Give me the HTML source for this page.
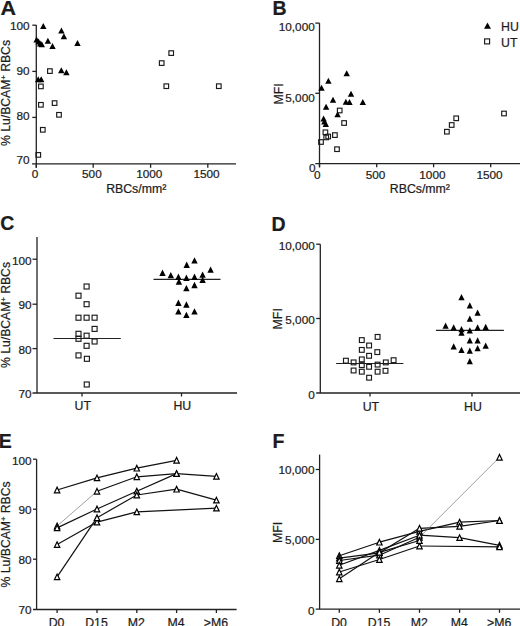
<!DOCTYPE html>
<html><head><meta charset="utf-8"><style>
html,body{margin:0;padding:0;background:#fff;}
body{width:520px;height:626px;overflow:hidden;}
svg{display:block;}
text{font-family:"Liberation Sans",sans-serif;fill:#1c1c1c;stroke:#1c1c1c;stroke-width:0.22px;}
</style></head><body>
<svg width="520" height="626" viewBox="0 0 520 626">
<rect width="520" height="626" fill="#fff"/>
<text x="0.6" y="14.6" font-size="19.5" text-anchor="start" font-weight="bold" transform="translate(0.6,0) scale(1.1,1) translate(-0.6,0)">A</text>
<line x1="36.3" y1="25" x2="36.3" y2="167.8" stroke="#222" stroke-width="1.3"/>
<line x1="32" y1="163.8" x2="236" y2="163.8" stroke="#222" stroke-width="1.3"/>
<line x1="32.3" y1="25.2" x2="36.3" y2="25.2" stroke="#222" stroke-width="1.3"/>
<line x1="32.3" y1="71.4" x2="36.3" y2="71.4" stroke="#222" stroke-width="1.3"/>
<line x1="32.3" y1="117.4" x2="36.3" y2="117.4" stroke="#222" stroke-width="1.3"/>
<text x="29.6" y="30.12" font-size="11.8" text-anchor="end" font-weight="normal" >100</text>
<text x="29.6" y="74.82" font-size="11.8" text-anchor="end" font-weight="normal" >90</text>
<text x="29.6" y="120.22" font-size="11.8" text-anchor="end" font-weight="normal" >80</text>
<text x="29.6" y="164.22" font-size="11.8" text-anchor="end" font-weight="normal" >70</text>
<line x1="36.3" y1="163.8" x2="36.3" y2="167.8" stroke="#222" stroke-width="1.3"/>
<text x="35" y="178.3" font-size="11.8" text-anchor="middle" font-weight="normal" >0</text>
<line x1="93.2" y1="163.8" x2="93.2" y2="167.8" stroke="#222" stroke-width="1.3"/>
<text x="91.9" y="178.3" font-size="11.8" text-anchor="middle" font-weight="normal" >500</text>
<line x1="150.6" y1="163.8" x2="150.6" y2="167.8" stroke="#222" stroke-width="1.3"/>
<text x="149.3" y="178.3" font-size="11.8" text-anchor="middle" font-weight="normal" >1000</text>
<line x1="207.8" y1="163.8" x2="207.8" y2="167.8" stroke="#222" stroke-width="1.3"/>
<text x="206.5" y="178.3" font-size="11.8" text-anchor="middle" font-weight="normal" >1500</text>
<text x="136.2" y="193.2" font-size="12.3" text-anchor="middle" font-weight="normal" >RBCs/mm²</text>
<text transform="translate(9.7,93) rotate(-90)" x="0" y="0" font-size="12.2" text-anchor="middle">% Lu/BCAM<tspan dy="-4" font-size="7.5">+</tspan><tspan dy="4"> RBCs</tspan></text>
<rect x="47.6" y="68.8" width="4.6" height="4.6" fill="none" stroke="#1a1a1a" stroke-width="1.15"/>
<rect x="38.6" y="84.1" width="4.6" height="4.6" fill="none" stroke="#1a1a1a" stroke-width="1.15"/>
<rect x="38.6" y="102.5" width="4.6" height="4.6" fill="none" stroke="#1a1a1a" stroke-width="1.15"/>
<rect x="52.3" y="100.8" width="4.6" height="4.6" fill="none" stroke="#1a1a1a" stroke-width="1.15"/>
<rect x="56.7" y="112.5" width="4.6" height="4.6" fill="none" stroke="#1a1a1a" stroke-width="1.15"/>
<rect x="40.5" y="127.5" width="4.6" height="4.6" fill="none" stroke="#1a1a1a" stroke-width="1.15"/>
<rect x="36" y="152.6" width="4.6" height="4.6" fill="none" stroke="#1a1a1a" stroke-width="1.15"/>
<rect x="168.9" y="50.8" width="4.6" height="4.6" fill="none" stroke="#1a1a1a" stroke-width="1.15"/>
<rect x="159.4" y="60.8" width="4.6" height="4.6" fill="none" stroke="#1a1a1a" stroke-width="1.15"/>
<rect x="164" y="83.9" width="4.6" height="4.6" fill="none" stroke="#1a1a1a" stroke-width="1.15"/>
<rect x="216.5" y="83.9" width="4.6" height="4.6" fill="none" stroke="#1a1a1a" stroke-width="1.15"/>
<polygon points="40.1,29 46.5,29 43.3,23" fill="#000"/>
<polygon points="58.2,33.4 64.6,33.4 61.4,27.4" fill="#000"/>
<polygon points="60.7,39.2 67.1,39.2 63.9,33.2" fill="#000"/>
<polygon points="33.4,42.4 39.8,42.4 36.6,36.4" fill="#000"/>
<polygon points="35.4,44.6 41.8,44.6 38.6,38.6" fill="#000"/>
<polygon points="37,46.4 43.4,46.4 40.2,40.4" fill="#000"/>
<polygon points="38.6,47.2 45,47.2 41.8,41.2" fill="#000"/>
<polygon points="44.7,43.8 51.1,43.8 47.9,37.8" fill="#000"/>
<polygon points="49.3,49 55.7,49 52.5,43" fill="#000"/>
<polygon points="74.3,46.1 80.7,46.1 77.5,40.1" fill="#000"/>
<polygon points="58.1,73.2 64.5,73.2 61.3,67.2" fill="#000"/>
<polygon points="63.2,75.3 69.6,75.3 66.4,69.3" fill="#000"/>
<polygon points="35,82.3 41.4,82.3 38.2,76.3" fill="#000"/>
<polygon points="38,82.3 44.4,82.3 41.2,76.3" fill="#000"/>
<text x="272.6" y="14.6" font-size="19.5" text-anchor="start" font-weight="bold" >B</text>
<line x1="319.5" y1="23.1" x2="319.5" y2="167.3" stroke="#222" stroke-width="1.3"/>
<line x1="315.3" y1="163.7" x2="520" y2="163.7" stroke="#222" stroke-width="1.3"/>
<line x1="315.3" y1="23.1" x2="319.5" y2="23.1" stroke="#222" stroke-width="1.3"/>
<line x1="315.3" y1="93.3" x2="319.5" y2="93.3" stroke="#222" stroke-width="1.3"/>
<text x="314.8" y="31.25" font-size="11.8" text-anchor="end" font-weight="normal" >10,000</text>
<text x="314.8" y="102.05" font-size="11.8" text-anchor="end" font-weight="normal" >5,000</text>
<text x="315.6" y="172.05" font-size="11.8" text-anchor="end" font-weight="normal" >0</text>
<line x1="319.5" y1="163.7" x2="319.5" y2="167.3" stroke="#222" stroke-width="1.3"/>
<text x="317.3" y="178.8" font-size="11.8" text-anchor="middle" font-weight="normal" >0</text>
<line x1="376.7" y1="163.7" x2="376.7" y2="167.3" stroke="#222" stroke-width="1.3"/>
<text x="375.5" y="178.8" font-size="11.8" text-anchor="middle" font-weight="normal" >500</text>
<line x1="433.6" y1="163.7" x2="433.6" y2="167.3" stroke="#222" stroke-width="1.3"/>
<text x="432.4" y="178.8" font-size="11.8" text-anchor="middle" font-weight="normal" >1000</text>
<line x1="490.7" y1="163.7" x2="490.7" y2="167.3" stroke="#222" stroke-width="1.3"/>
<text x="489.5" y="178.8" font-size="11.8" text-anchor="middle" font-weight="normal" >1500</text>
<text x="419.9" y="193.4" font-size="12.3" text-anchor="middle" font-weight="normal" >RBCs/mm²</text>
<text transform="translate(282.6,94) rotate(-90)" x="0" y="0" font-size="12.3" text-anchor="middle">MFI</text>
<polygon points="484,28.7 491,28.7 487.5,22.5" fill="#000"/>
<text x="501" y="30.7" font-size="12.3" text-anchor="start" font-weight="normal" >HU</text>
<rect x="484.6" y="38.9" width="5" height="5" fill="none" stroke="#1a1a1a" stroke-width="1.15"/>
<text x="501" y="47" font-size="12.3" text-anchor="start" font-weight="normal" >UT</text>
<rect x="337.4" y="108.2" width="4.6" height="4.6" fill="none" stroke="#1a1a1a" stroke-width="1.15"/>
<rect x="341.8" y="120.7" width="4.6" height="4.6" fill="none" stroke="#1a1a1a" stroke-width="1.15"/>
<rect x="323.1" y="130" width="4.6" height="4.6" fill="none" stroke="#1a1a1a" stroke-width="1.15"/>
<rect x="332.6" y="132.8" width="4.6" height="4.6" fill="none" stroke="#1a1a1a" stroke-width="1.15"/>
<rect x="325.9" y="134.2" width="4.6" height="4.6" fill="none" stroke="#1a1a1a" stroke-width="1.15"/>
<rect x="323.9" y="135.1" width="4.6" height="4.6" fill="none" stroke="#1a1a1a" stroke-width="1.15"/>
<rect x="318.7" y="139.7" width="4.6" height="4.6" fill="none" stroke="#1a1a1a" stroke-width="1.15"/>
<rect x="334.7" y="146.9" width="4.6" height="4.6" fill="none" stroke="#1a1a1a" stroke-width="1.15"/>
<rect x="453.9" y="116" width="4.6" height="4.6" fill="none" stroke="#1a1a1a" stroke-width="1.15"/>
<rect x="449.4" y="122.7" width="4.6" height="4.6" fill="none" stroke="#1a1a1a" stroke-width="1.15"/>
<rect x="444.6" y="129.4" width="4.6" height="4.6" fill="none" stroke="#1a1a1a" stroke-width="1.15"/>
<rect x="501.7" y="111.2" width="4.6" height="4.6" fill="none" stroke="#1a1a1a" stroke-width="1.15"/>
<polygon points="343.5,76.3 349.9,76.3 346.7,70.3" fill="#000"/>
<polygon points="325.2,83.8 331.6,83.8 328.4,77.8" fill="#000"/>
<polygon points="318.3,90.7 324.7,90.7 321.5,84.7" fill="#000"/>
<polygon points="347.8,96.8 354.2,96.8 351,90.8" fill="#000"/>
<polygon points="329.8,102.8 336.2,102.8 333,96.8" fill="#000"/>
<polygon points="342.7,104.7 349.1,104.7 345.9,98.7" fill="#000"/>
<polygon points="346.3,105.1 352.7,105.1 349.5,99.1" fill="#000"/>
<polygon points="359.6,105.1 366,105.1 362.8,99.1" fill="#000"/>
<polygon points="322.9,109.7 329.3,109.7 326.1,103.7" fill="#000"/>
<polygon points="334.4,117.2 340.8,117.2 337.6,111.2" fill="#000"/>
<polygon points="320.4,121.5 326.8,121.5 323.6,115.5" fill="#000"/>
<polygon points="321.2,124.4 327.6,124.4 324.4,118.4" fill="#000"/>
<polygon points="322.6,127 329,127 325.8,121" fill="#000"/>
<text x="0.2" y="230.4" font-size="19.5" text-anchor="start" font-weight="bold" >C</text>
<line x1="37" y1="237" x2="37" y2="393" stroke="#222" stroke-width="1.3"/>
<line x1="32.5" y1="393" x2="237" y2="393" stroke="#222" stroke-width="1.3"/>
<line x1="32.5" y1="259.2" x2="37" y2="259.2" stroke="#222" stroke-width="1.3"/>
<line x1="32.5" y1="304.2" x2="37" y2="304.2" stroke="#222" stroke-width="1.3"/>
<line x1="32.5" y1="348.6" x2="37" y2="348.6" stroke="#222" stroke-width="1.3"/>
<text x="31.6" y="265.02" font-size="11.8" text-anchor="end" font-weight="normal" >100</text>
<text x="31.6" y="309.22" font-size="11.8" text-anchor="end" font-weight="normal" >90</text>
<text x="31.6" y="353.62" font-size="11.8" text-anchor="end" font-weight="normal" >80</text>
<text x="31.6" y="398.22" font-size="11.8" text-anchor="end" font-weight="normal" >70</text>
<line x1="82" y1="393" x2="82" y2="396.5" stroke="#222" stroke-width="1.3"/>
<text x="82.8" y="410.11" font-size="12.3" text-anchor="middle" font-weight="normal" >UT</text>
<line x1="181.5" y1="393" x2="181.5" y2="396.5" stroke="#222" stroke-width="1.3"/>
<text x="182.3" y="410.11" font-size="12.3" text-anchor="middle" font-weight="normal" >HU</text>
<text transform="translate(9.7,315) rotate(-90)" x="0" y="0" font-size="12.2" text-anchor="middle">% Lu/BCAM<tspan dy="-4" font-size="7.5">+</tspan><tspan dy="4"> RBCs</tspan></text>
<line x1="53.5" y1="338.5" x2="120.8" y2="338.5" stroke="#222" stroke-width="1.2"/>
<line x1="153.5" y1="279.4" x2="220.5" y2="279.4" stroke="#222" stroke-width="1.2"/>
<rect x="84.1" y="284" width="5" height="5" fill="none" stroke="#1a1a1a" stroke-width="1.15"/>
<rect x="76" y="293.2" width="5" height="5" fill="none" stroke="#1a1a1a" stroke-width="1.15"/>
<rect x="84.1" y="301.7" width="5" height="5" fill="none" stroke="#1a1a1a" stroke-width="1.15"/>
<rect x="76" y="315.2" width="5" height="5" fill="none" stroke="#1a1a1a" stroke-width="1.15"/>
<rect x="84.1" y="315.2" width="5" height="5" fill="none" stroke="#1a1a1a" stroke-width="1.15"/>
<rect x="92.1" y="315.2" width="5" height="5" fill="none" stroke="#1a1a1a" stroke-width="1.15"/>
<rect x="92.1" y="326.4" width="5" height="5" fill="none" stroke="#1a1a1a" stroke-width="1.15"/>
<rect x="76" y="331.3" width="5" height="5" fill="none" stroke="#1a1a1a" stroke-width="1.15"/>
<rect x="84.1" y="333.2" width="5" height="5" fill="none" stroke="#1a1a1a" stroke-width="1.15"/>
<rect x="76" y="336.3" width="5" height="5" fill="none" stroke="#1a1a1a" stroke-width="1.15"/>
<rect x="92.1" y="339" width="5" height="5" fill="none" stroke="#1a1a1a" stroke-width="1.15"/>
<rect x="84.1" y="343.3" width="5" height="5" fill="none" stroke="#1a1a1a" stroke-width="1.15"/>
<rect x="76" y="352.9" width="5" height="5" fill="none" stroke="#1a1a1a" stroke-width="1.15"/>
<rect x="84.4" y="356.3" width="5" height="5" fill="none" stroke="#1a1a1a" stroke-width="1.15"/>
<rect x="84.25" y="382" width="5" height="5" fill="none" stroke="#1a1a1a" stroke-width="1.15"/>
<polygon points="191.3,263.6 197.7,263.6 194.5,257.2" fill="#000"/>
<polygon points="183.5,267.9 189.9,267.9 186.7,261.5" fill="#000"/>
<polygon points="207.4,272.8 213.8,272.8 210.6,266.4" fill="#000"/>
<polygon points="159.3,276 165.7,276 162.5,269.6" fill="#000"/>
<polygon points="167.6,278.3 174,278.3 170.8,271.9" fill="#000"/>
<polygon points="175.2,280 181.6,280 178.4,273.6" fill="#000"/>
<polygon points="183.2,280.9 189.6,280.9 186.4,274.5" fill="#000"/>
<polygon points="191.3,280 197.7,280 194.5,273.6" fill="#000"/>
<polygon points="199.4,277.8 205.8,277.8 202.6,271.4" fill="#000"/>
<polygon points="199.4,283 205.8,283 202.6,276.6" fill="#000"/>
<polygon points="175.7,284.7 182.1,284.7 178.9,278.3" fill="#000"/>
<polygon points="191.3,288.2 197.7,288.2 194.5,281.8" fill="#000"/>
<polygon points="183.2,291.3 189.6,291.3 186.4,284.9" fill="#000"/>
<polygon points="175.2,306 181.6,306 178.4,299.6" fill="#000"/>
<polygon points="183.2,307.7 189.6,307.7 186.4,301.3" fill="#000"/>
<polygon points="175.2,314.6 181.6,314.6 178.4,308.2" fill="#000"/>
<polygon points="191.3,314.6 197.7,314.6 194.5,308.2" fill="#000"/>
<polygon points="183.2,318.1 189.6,318.1 186.4,311.7" fill="#000"/>
<text x="271.5" y="231.2" font-size="19.5" text-anchor="start" font-weight="bold" >D</text>
<line x1="320.3" y1="244.2" x2="320.3" y2="393" stroke="#222" stroke-width="1.3"/>
<line x1="316.2" y1="393" x2="520" y2="393" stroke="#222" stroke-width="1.3"/>
<line x1="316.2" y1="244.2" x2="320.3" y2="244.2" stroke="#222" stroke-width="1.3"/>
<line x1="316.2" y1="318.5" x2="320.3" y2="318.5" stroke="#222" stroke-width="1.3"/>
<text x="314.8" y="249.62" font-size="11.8" text-anchor="end" font-weight="normal" >10,000</text>
<text x="314.8" y="324.22" font-size="11.8" text-anchor="end" font-weight="normal" >5,000</text>
<text x="314.8" y="398.62" font-size="11.8" text-anchor="end" font-weight="normal" >0</text>
<line x1="370" y1="393" x2="370" y2="396.5" stroke="#222" stroke-width="1.3"/>
<text x="370.9" y="410.61" font-size="12.3" text-anchor="middle" font-weight="normal" >UT</text>
<line x1="472" y1="393" x2="472" y2="396.5" stroke="#222" stroke-width="1.3"/>
<text x="472.9" y="410.61" font-size="12.3" text-anchor="middle" font-weight="normal" >HU</text>
<text transform="translate(282.3,318.8) rotate(-90)" x="0" y="0" font-size="12.3" text-anchor="middle">MFI</text>
<line x1="336.1" y1="363.5" x2="403.4" y2="363.5" stroke="#222" stroke-width="1.2"/>
<line x1="435.9" y1="330.3" x2="503.9" y2="330.3" stroke="#222" stroke-width="1.2"/>
<rect x="375.2" y="334.5" width="4.8" height="4.8" fill="none" stroke="#1a1a1a" stroke-width="1.15"/>
<rect x="359.4" y="337.7" width="4.8" height="4.8" fill="none" stroke="#1a1a1a" stroke-width="1.15"/>
<rect x="366.7" y="343.1" width="4.8" height="4.8" fill="none" stroke="#1a1a1a" stroke-width="1.15"/>
<rect x="359.4" y="347.5" width="4.8" height="4.8" fill="none" stroke="#1a1a1a" stroke-width="1.15"/>
<rect x="374.9" y="349.7" width="4.8" height="4.8" fill="none" stroke="#1a1a1a" stroke-width="1.15"/>
<rect x="366.7" y="353.4" width="4.8" height="4.8" fill="none" stroke="#1a1a1a" stroke-width="1.15"/>
<rect x="359.4" y="357" width="4.8" height="4.8" fill="none" stroke="#1a1a1a" stroke-width="1.15"/>
<rect x="343.5" y="358.3" width="4.8" height="4.8" fill="none" stroke="#1a1a1a" stroke-width="1.15"/>
<rect x="351.2" y="360" width="4.8" height="4.8" fill="none" stroke="#1a1a1a" stroke-width="1.15"/>
<rect x="391.2" y="357.8" width="4.8" height="4.8" fill="none" stroke="#1a1a1a" stroke-width="1.15"/>
<rect x="383.4" y="360" width="4.8" height="4.8" fill="none" stroke="#1a1a1a" stroke-width="1.15"/>
<rect x="359.4" y="362.7" width="4.8" height="4.8" fill="none" stroke="#1a1a1a" stroke-width="1.15"/>
<rect x="366.7" y="364.4" width="4.8" height="4.8" fill="none" stroke="#1a1a1a" stroke-width="1.15"/>
<rect x="375.2" y="362.2" width="4.8" height="4.8" fill="none" stroke="#1a1a1a" stroke-width="1.15"/>
<rect x="351.2" y="368.1" width="4.8" height="4.8" fill="none" stroke="#1a1a1a" stroke-width="1.15"/>
<rect x="359.4" y="369.3" width="4.8" height="4.8" fill="none" stroke="#1a1a1a" stroke-width="1.15"/>
<rect x="375.2" y="369.3" width="4.8" height="4.8" fill="none" stroke="#1a1a1a" stroke-width="1.15"/>
<rect x="383.1" y="368.4" width="4.8" height="4.8" fill="none" stroke="#1a1a1a" stroke-width="1.15"/>
<rect x="366.7" y="375.3" width="4.8" height="4.8" fill="none" stroke="#1a1a1a" stroke-width="1.15"/>
<polygon points="458.4,300.2 464.6,300.2 461.5,294" fill="#000"/>
<polygon points="466.7,308.5 472.9,308.5 469.8,302.3" fill="#000"/>
<polygon points="474.5,315.8 480.7,315.8 477.6,309.6" fill="#000"/>
<polygon points="466.7,321.8 472.9,321.8 469.8,315.6" fill="#000"/>
<polygon points="442.5,328.8 448.7,328.8 445.6,322.6" fill="#000"/>
<polygon points="450.6,330.5 456.8,330.5 453.7,324.3" fill="#000"/>
<polygon points="458.4,332.2 464.6,332.2 461.5,326" fill="#000"/>
<polygon points="458.4,335.7 464.6,335.7 461.5,329.5" fill="#000"/>
<polygon points="466.7,333.4 472.9,333.4 469.8,327.2" fill="#000"/>
<polygon points="474.5,330.5 480.7,330.5 477.6,324.3" fill="#000"/>
<polygon points="482.6,330 488.8,330 485.7,323.8" fill="#000"/>
<polygon points="466.7,343.5 472.9,343.5 469.8,337.3" fill="#000"/>
<polygon points="474.5,343.5 480.7,343.5 477.6,337.3" fill="#000"/>
<polygon points="450.6,349.5 456.8,349.5 453.7,343.3" fill="#000"/>
<polygon points="458.4,353 464.6,353 461.5,346.8" fill="#000"/>
<polygon points="466.7,353.8 472.9,353.8 469.8,347.6" fill="#000"/>
<polygon points="474.5,351.3 480.7,351.3 477.6,345.1" fill="#000"/>
<polygon points="482.6,348.7 488.8,348.7 485.7,342.5" fill="#000"/>
<polygon points="466.7,364.2 472.9,364.2 469.8,358" fill="#000"/>
<text x="-1.2" y="447.7" font-size="19.5" text-anchor="start" font-weight="bold" >E</text>
<line x1="36.6" y1="459.2" x2="36.6" y2="609.5" stroke="#222" stroke-width="1.3"/>
<line x1="33" y1="609.5" x2="236.6" y2="609.5" stroke="#222" stroke-width="1.3"/>
<line x1="33" y1="459.2" x2="36.6" y2="459.2" stroke="#222" stroke-width="1.3"/>
<line x1="33" y1="509.2" x2="36.6" y2="509.2" stroke="#222" stroke-width="1.3"/>
<line x1="33" y1="559.2" x2="36.6" y2="559.2" stroke="#222" stroke-width="1.3"/>
<text x="31.6" y="464.82" font-size="11.8" text-anchor="end" font-weight="normal" >100</text>
<text x="31.6" y="514.12" font-size="11.8" text-anchor="end" font-weight="normal" >90</text>
<text x="31.6" y="564.12" font-size="11.8" text-anchor="end" font-weight="normal" >80</text>
<text x="31.6" y="614.42" font-size="11.8" text-anchor="end" font-weight="normal" >70</text>
<line x1="57.1" y1="609.5" x2="57.1" y2="613" stroke="#222" stroke-width="1.3"/>
<text x="56.6" y="626.81" font-size="12.3" text-anchor="middle" font-weight="normal" >D0</text>
<line x1="97" y1="609.5" x2="97" y2="613" stroke="#222" stroke-width="1.3"/>
<text x="96.5" y="626.81" font-size="12.3" text-anchor="middle" font-weight="normal" >D15</text>
<line x1="136.8" y1="609.5" x2="136.8" y2="613" stroke="#222" stroke-width="1.3"/>
<text x="136.3" y="626.81" font-size="12.3" text-anchor="middle" font-weight="normal" >M2</text>
<line x1="176.6" y1="609.5" x2="176.6" y2="613" stroke="#222" stroke-width="1.3"/>
<text x="176.1" y="626.81" font-size="12.3" text-anchor="middle" font-weight="normal" >M4</text>
<line x1="216.4" y1="609.5" x2="216.4" y2="613" stroke="#222" stroke-width="1.3"/>
<text x="215.9" y="626.81" font-size="12.3" text-anchor="middle" font-weight="normal" >&gt;M6</text>
<text transform="translate(9.8,534.4) rotate(-90)" x="0" y="0" font-size="12.2" text-anchor="middle">% Lu/BCAM<tspan dy="-4" font-size="7.5">+</tspan><tspan dy="4"> RBCs</tspan></text>
<line x1="57.1" y1="490" x2="97" y2="477.9" stroke="#111" stroke-width="1.2"/>
<line x1="97" y1="477.9" x2="136.8" y2="468.2" stroke="#111" stroke-width="1.2"/>
<line x1="136.8" y1="468.2" x2="176.6" y2="460.3" stroke="#111" stroke-width="1.2"/>
<line x1="57.1" y1="526" x2="97" y2="491.3" stroke="#777" stroke-width="0.7"/>
<line x1="97" y1="491.3" x2="136.8" y2="476.8" stroke="#111" stroke-width="1.2"/>
<line x1="136.8" y1="476.8" x2="176.6" y2="473.6" stroke="#111" stroke-width="1.2"/>
<line x1="176.6" y1="473.6" x2="216.4" y2="476.4" stroke="#111" stroke-width="1.2"/>
<line x1="57.1" y1="527.9" x2="97" y2="509" stroke="#111" stroke-width="1.2"/>
<line x1="97" y1="509" x2="136.8" y2="491.2" stroke="#111" stroke-width="1.2"/>
<line x1="136.8" y1="491.2" x2="176.6" y2="473.6" stroke="#111" stroke-width="1.2"/>
<line x1="57.1" y1="544.6" x2="97" y2="522.1" stroke="#111" stroke-width="1.2"/>
<line x1="97" y1="522.1" x2="136.8" y2="511.9" stroke="#111" stroke-width="1.2"/>
<line x1="136.8" y1="511.9" x2="216.4" y2="508.1" stroke="#111" stroke-width="1.2"/>
<line x1="57.1" y1="576.9" x2="97" y2="517.7" stroke="#111" stroke-width="1.2"/>
<line x1="97" y1="517.7" x2="136.8" y2="495" stroke="#111" stroke-width="1.2"/>
<line x1="136.8" y1="495" x2="176.6" y2="489.2" stroke="#111" stroke-width="1.2"/>
<line x1="176.6" y1="489.2" x2="216.4" y2="500.1" stroke="#111" stroke-width="1.2"/>
<polygon points="54.4,492.8 59.8,492.8 57.1,487.2" fill="#fff" stroke="#000" stroke-width="1.2"/>
<polygon points="94.3,480.7 99.7,480.7 97,475.1" fill="#fff" stroke="#000" stroke-width="1.2"/>
<polygon points="134.1,471 139.5,471 136.8,465.4" fill="#fff" stroke="#000" stroke-width="1.2"/>
<polygon points="173.9,463.1 179.3,463.1 176.6,457.5" fill="#fff" stroke="#000" stroke-width="1.2"/>
<polygon points="54.4,528.8 59.8,528.8 57.1,523.2" fill="#fff" stroke="#000" stroke-width="1.2"/>
<polygon points="94.3,494.1 99.7,494.1 97,488.5" fill="#fff" stroke="#000" stroke-width="1.2"/>
<polygon points="134.1,479.6 139.5,479.6 136.8,474" fill="#fff" stroke="#000" stroke-width="1.2"/>
<polygon points="173.9,476.4 179.3,476.4 176.6,470.8" fill="#fff" stroke="#000" stroke-width="1.2"/>
<polygon points="213.7,479.2 219.1,479.2 216.4,473.6" fill="#fff" stroke="#000" stroke-width="1.2"/>
<polygon points="54.4,530.7 59.8,530.7 57.1,525.1" fill="#fff" stroke="#000" stroke-width="1.2"/>
<polygon points="94.3,511.8 99.7,511.8 97,506.2" fill="#fff" stroke="#000" stroke-width="1.2"/>
<polygon points="134.1,494 139.5,494 136.8,488.4" fill="#fff" stroke="#000" stroke-width="1.2"/>
<polygon points="173.9,476.4 179.3,476.4 176.6,470.8" fill="#fff" stroke="#000" stroke-width="1.2"/>
<polygon points="54.4,547.4 59.8,547.4 57.1,541.8" fill="#fff" stroke="#000" stroke-width="1.2"/>
<polygon points="94.3,524.9 99.7,524.9 97,519.3" fill="#fff" stroke="#000" stroke-width="1.2"/>
<polygon points="134.1,514.7 139.5,514.7 136.8,509.1" fill="#fff" stroke="#000" stroke-width="1.2"/>
<polygon points="213.7,510.9 219.1,510.9 216.4,505.3" fill="#fff" stroke="#000" stroke-width="1.2"/>
<polygon points="54.4,579.7 59.8,579.7 57.1,574.1" fill="#fff" stroke="#000" stroke-width="1.2"/>
<polygon points="94.3,520.5 99.7,520.5 97,514.9" fill="#fff" stroke="#000" stroke-width="1.2"/>
<polygon points="134.1,497.8 139.5,497.8 136.8,492.2" fill="#fff" stroke="#000" stroke-width="1.2"/>
<polygon points="173.9,492 179.3,492 176.6,486.4" fill="#fff" stroke="#000" stroke-width="1.2"/>
<polygon points="213.7,502.9 219.1,502.9 216.4,497.3" fill="#fff" stroke="#000" stroke-width="1.2"/>
<text x="272.4" y="448" font-size="19.5" text-anchor="start" font-weight="bold" >F</text>
<line x1="319.6" y1="454.6" x2="319.6" y2="609.2" stroke="#222" stroke-width="1.3"/>
<line x1="315.7" y1="609.2" x2="520" y2="609.2" stroke="#222" stroke-width="1.3"/>
<line x1="315.7" y1="469.5" x2="319.6" y2="469.5" stroke="#222" stroke-width="1.3"/>
<line x1="315.7" y1="539.4" x2="319.6" y2="539.4" stroke="#222" stroke-width="1.3"/>
<text x="314.5" y="474.42" font-size="11.8" text-anchor="end" font-weight="normal" >10,000</text>
<text x="314.5" y="543.52" font-size="11.8" text-anchor="end" font-weight="normal" >5,000</text>
<text x="314.5" y="614.62" font-size="11.8" text-anchor="end" font-weight="normal" >0</text>
<line x1="339.3" y1="609.2" x2="339.3" y2="612.8" stroke="#222" stroke-width="1.3"/>
<text x="339" y="626.81" font-size="12.3" text-anchor="middle" font-weight="normal" >D0</text>
<line x1="379.4" y1="609.2" x2="379.4" y2="612.8" stroke="#222" stroke-width="1.3"/>
<text x="379.1" y="626.81" font-size="12.3" text-anchor="middle" font-weight="normal" >D15</text>
<line x1="419.5" y1="609.2" x2="419.5" y2="612.8" stroke="#222" stroke-width="1.3"/>
<text x="419.2" y="626.81" font-size="12.3" text-anchor="middle" font-weight="normal" >M2</text>
<line x1="459.6" y1="609.2" x2="459.6" y2="612.8" stroke="#222" stroke-width="1.3"/>
<text x="459.3" y="626.81" font-size="12.3" text-anchor="middle" font-weight="normal" >M4</text>
<line x1="499.5" y1="609.2" x2="499.5" y2="612.8" stroke="#222" stroke-width="1.3"/>
<text x="499.2" y="626.81" font-size="12.3" text-anchor="middle" font-weight="normal" >&gt;M6</text>
<text transform="translate(282.2,532.5) rotate(-90)" x="0" y="0" font-size="12.3" text-anchor="middle">MFI</text>
<line x1="339.3" y1="555.7" x2="379.4" y2="542.2" stroke="#111" stroke-width="1.2"/>
<line x1="379.4" y1="542.2" x2="419.5" y2="531.4" stroke="#111" stroke-width="1.2"/>
<line x1="419.5" y1="531.4" x2="459.6" y2="522.2" stroke="#111" stroke-width="1.2"/>
<line x1="459.6" y1="522.2" x2="499.5" y2="520.5" stroke="#111" stroke-width="1.2"/>
<line x1="339.3" y1="558.1" x2="379.4" y2="552.8" stroke="#111" stroke-width="1.2"/>
<line x1="379.4" y1="552.8" x2="419.5" y2="528.3" stroke="#111" stroke-width="1.2"/>
<line x1="419.5" y1="528.3" x2="459.6" y2="526.4" stroke="#111" stroke-width="1.2"/>
<line x1="459.6" y1="526.4" x2="499.5" y2="520.5" stroke="#111" stroke-width="1.2"/>
<line x1="339.3" y1="560.5" x2="379.4" y2="555.2" stroke="#111" stroke-width="1.2"/>
<line x1="379.4" y1="555.2" x2="419.5" y2="537.3" stroke="#111" stroke-width="1.2"/>
<line x1="419.5" y1="537.3" x2="499.5" y2="457.3" stroke="#777" stroke-width="0.7"/>
<line x1="339.3" y1="565.3" x2="379.4" y2="550.4" stroke="#111" stroke-width="1.2"/>
<line x1="379.4" y1="550.4" x2="419.5" y2="535.2" stroke="#111" stroke-width="1.2"/>
<line x1="419.5" y1="535.2" x2="459.6" y2="537.6" stroke="#111" stroke-width="1.2"/>
<line x1="459.6" y1="537.6" x2="499.5" y2="545.3" stroke="#111" stroke-width="1.2"/>
<line x1="339.3" y1="572" x2="379.4" y2="559.5" stroke="#111" stroke-width="1.2"/>
<line x1="379.4" y1="559.5" x2="419.5" y2="546" stroke="#111" stroke-width="1.2"/>
<line x1="419.5" y1="546" x2="499.5" y2="546.8" stroke="#111" stroke-width="1.2"/>
<line x1="339.3" y1="578.8" x2="379.4" y2="552.3" stroke="#111" stroke-width="1.2"/>
<line x1="379.4" y1="552.3" x2="419.5" y2="540.5" stroke="#111" stroke-width="1.2"/>
<polygon points="336.6,558.5 342,558.5 339.3,552.9" fill="#fff" stroke="#000" stroke-width="1.2"/>
<polygon points="376.7,545 382.1,545 379.4,539.4" fill="#fff" stroke="#000" stroke-width="1.2"/>
<polygon points="416.8,534.2 422.2,534.2 419.5,528.6" fill="#fff" stroke="#000" stroke-width="1.2"/>
<polygon points="456.9,525 462.3,525 459.6,519.4" fill="#fff" stroke="#000" stroke-width="1.2"/>
<polygon points="496.8,523.3 502.2,523.3 499.5,517.7" fill="#fff" stroke="#000" stroke-width="1.2"/>
<polygon points="336.6,560.9 342,560.9 339.3,555.3" fill="#fff" stroke="#000" stroke-width="1.2"/>
<polygon points="376.7,555.6 382.1,555.6 379.4,550" fill="#fff" stroke="#000" stroke-width="1.2"/>
<polygon points="416.8,531.1 422.2,531.1 419.5,525.5" fill="#fff" stroke="#000" stroke-width="1.2"/>
<polygon points="456.9,529.2 462.3,529.2 459.6,523.6" fill="#fff" stroke="#000" stroke-width="1.2"/>
<polygon points="496.8,523.3 502.2,523.3 499.5,517.7" fill="#fff" stroke="#000" stroke-width="1.2"/>
<polygon points="336.6,563.3 342,563.3 339.3,557.7" fill="#fff" stroke="#000" stroke-width="1.2"/>
<polygon points="376.7,558 382.1,558 379.4,552.4" fill="#fff" stroke="#000" stroke-width="1.2"/>
<polygon points="416.8,540.1 422.2,540.1 419.5,534.5" fill="#fff" stroke="#000" stroke-width="1.2"/>
<polygon points="496.8,460.1 502.2,460.1 499.5,454.5" fill="#fff" stroke="#000" stroke-width="1.2"/>
<polygon points="336.6,568.1 342,568.1 339.3,562.5" fill="#fff" stroke="#000" stroke-width="1.2"/>
<polygon points="376.7,553.2 382.1,553.2 379.4,547.6" fill="#fff" stroke="#000" stroke-width="1.2"/>
<polygon points="416.8,538 422.2,538 419.5,532.4" fill="#fff" stroke="#000" stroke-width="1.2"/>
<polygon points="456.9,540.4 462.3,540.4 459.6,534.8" fill="#fff" stroke="#000" stroke-width="1.2"/>
<polygon points="496.8,548.1 502.2,548.1 499.5,542.5" fill="#fff" stroke="#000" stroke-width="1.2"/>
<polygon points="336.6,574.8 342,574.8 339.3,569.2" fill="#fff" stroke="#000" stroke-width="1.2"/>
<polygon points="376.7,562.3 382.1,562.3 379.4,556.7" fill="#fff" stroke="#000" stroke-width="1.2"/>
<polygon points="416.8,548.8 422.2,548.8 419.5,543.2" fill="#fff" stroke="#000" stroke-width="1.2"/>
<polygon points="496.8,549.6 502.2,549.6 499.5,544" fill="#fff" stroke="#000" stroke-width="1.2"/>
<polygon points="336.6,581.6 342,581.6 339.3,576" fill="#fff" stroke="#000" stroke-width="1.2"/>
<polygon points="376.7,555.1 382.1,555.1 379.4,549.5" fill="#fff" stroke="#000" stroke-width="1.2"/>
<polygon points="416.8,543.3 422.2,543.3 419.5,537.7" fill="#fff" stroke="#000" stroke-width="1.2"/>
</svg>
</body></html>
